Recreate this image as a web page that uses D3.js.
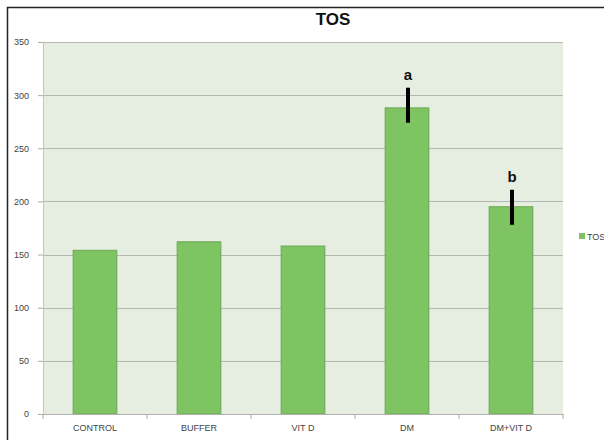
<!DOCTYPE html>
<html><head><meta charset="utf-8">
<script src="https://cdn.jsdelivr.net/npm/d3@7"></script>
<style>body{margin:0;background:#fff}svg{display:block}</style>
</head><body>
<svg id="c" width="604" height="440"></svg>
<script>
const categories = ["CONTROL", "BUFFER", "VIT D", "DM", "DM+VIT D"];
const values = [154, 162, 158, 288, 195];
const errHigh = [null, null, null, 307, 211];
const errLow = [null, null, null, 274, 178];
const sigLabels = ["", "", "", "a", "b"];
const yTicks = [0, 50, 100, 150, 200, 250, 300, 350];
const title = "TOS";
const seriesName = "TOS";

const svg = d3.select("#c");
const font = "'Liberation Sans', Arial, sans-serif";
const M = {left: 43, right: 563, top: 42, bottom: 414};

// outer frame
svg.append("rect").attr("x", 7.5).attr("y", 7.5).attr("width", 610).attr("height", 450)
  .attr("fill", "none").attr("stroke", "#222").attr("stroke-width", 1.5);

const x = d3.scaleBand().domain(categories).range([M.left, M.right]).paddingInner(0).paddingOuter(0);
const y = d3.scaleLinear().domain([0, 350]).range([M.bottom, M.top]);

// plot bg
svg.append("rect").attr("x", M.left).attr("y", M.top).attr("width", M.right - M.left)
  .attr("height", M.bottom - M.top).attr("fill", "#e5eee1");

// gridlines
svg.append("g").selectAll("line").data(yTicks.filter(d => d > 0)).join("line")
  .attr("x1", M.left).attr("x2", M.right)
  .attr("y1", d => Math.round(y(d)) + 0.5).attr("y2", d => Math.round(y(d)) + 0.5)
  .attr("stroke", "#b4b8b2").attr("stroke-width", 1.2);

// y axis
const ya = svg.append("g").attr("transform", `translate(${M.left},0)`)
  .call(d3.axisLeft(y).tickValues(yTicks).tickSize(5).tickPadding(9));
ya.select(".domain").attr("stroke", "#c4c4c4");
ya.selectAll(".tick line").attr("stroke", "#aaa");
ya.selectAll("text").attr("font-family", font).attr("font-size", 9).attr("fill", "#444");

// bars
const bw = x.bandwidth() * 0.42;
svg.append("g").selectAll("rect").data(values).join("rect")
  .attr("x", (d, i) => x(categories[i]) + x.bandwidth() / 2 - bw / 2)
  .attr("y", d => y(d)).attr("width", bw).attr("height", d => y(0) - y(d))
  .attr("fill", "#7ec462").attr("stroke", "#6aa852").attr("stroke-width", 1);

// x axis
const xa = svg.append("g").attr("transform", `translate(0,${M.bottom})`)
  .call(d3.axisBottom(x).tickSize(0).tickPadding(11));
xa.select(".domain").attr("stroke", "#b0b0b0").attr("stroke-width", 1.2);
xa.selectAll("text").attr("font-family", font).attr("font-size", 9).attr("fill", "#444");
// category boundary ticks
svg.append("g").selectAll("line").data(d3.range(categories.length + 1)).join("line")
  .attr("x1", i => M.left + i * x.step()).attr("x2", i => M.left + i * x.step())
  .attr("y1", M.bottom).attr("y2", M.bottom + 5).attr("stroke", "#aaa");

// error bars
const eIdx = d3.range(values.length).filter(i => errHigh[i] != null);
svg.append("g").selectAll("line").data(eIdx).join("line")
  .attr("x1", i => x(categories[i]) + x.bandwidth() / 2 + 1)
  .attr("x2", i => x(categories[i]) + x.bandwidth() / 2 + 1)
  .attr("y1", i => y(errHigh[i])).attr("y2", i => y(errLow[i]))
  .attr("stroke", "#000").attr("stroke-width", 4);
svg.append("g").selectAll("text").data(eIdx).join("text")
  .attr("x", i => x(categories[i]) + x.bandwidth() / 2 + 1)
  .attr("y", i => y(errHigh[i]) - 8)
  .attr("text-anchor", "middle").attr("font-family", font).attr("font-weight", "bold")
  .attr("font-size", 15).attr("fill", "#111").text(i => sigLabels[i]);

// title
svg.append("text").attr("x", 333).attr("y", 25).attr("text-anchor", "middle")
  .attr("font-family", font).attr("font-weight", "bold").attr("font-size", 17)
  .attr("fill", "#111").text(title);

// legend
svg.append("rect").attr("x", 579).attr("y", 233).attr("width", 6).attr("height", 6)
  .attr("fill", "#7ec462");
svg.append("text").attr("x", 587).attr("y", 239.5).attr("font-family", font)
  .attr("font-size", 9).attr("fill", "#444").text(seriesName);
</script>
</body></html>
